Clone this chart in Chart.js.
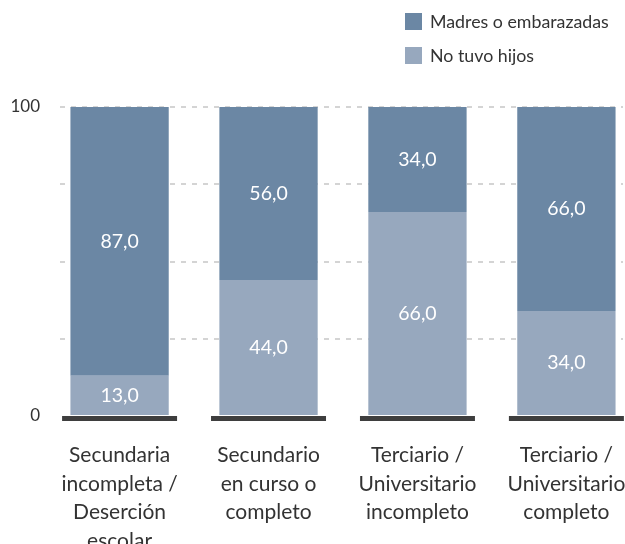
<!DOCTYPE html>
<html><head><meta charset="utf-8">
<script src="https://cdn.jsdelivr.net/npm/chart.js@4/dist/chart.umd.min.js"></script>
<style>
html,body{margin:0;padding:0;background:#fff;overflow:hidden}
#wrap{position:relative;width:625px;height:544px}
canvas{position:absolute;left:0;top:0}
.leg{position:absolute;left:405px;font-family:Lato,"Noto Sans",sans-serif;font-size:17.8px;color:#333;display:flex;align-items:center;line-height:19px}
.leg span.b{display:inline-block;width:17px;height:17px;margin-right:8px}
</style></head>
<body><div id="wrap">
<canvas id="c" width="625" height="544"></canvas>
<div class="leg" style="top:12px"><span class="b" style="background:#6b87a4"></span>Madres o embarazadas</div>
<div class="leg" style="top:46px"><span class="b" style="background:#97a8be"></span>No tuvo hijos</div>
</div>
<script>
const categories = [
  ["Secundaria","incompleta /","Deserción","escolar"],
  ["Secundario","en curso o","completo"],
  ["Terciario /","Universitario","incompleto"],
  ["Terciario /","Universitario","completo"]
];
const noTuvoHijos = [13.0, 44.0, 66.0, 34.0];
const madres = [87.0, 56.0, 34.0, 66.0];
const seriesNames = ["No tuvo hijos", "Madres o embarazadas"];
const yTickLabels = {0: "0", 100: "100"};

const FONT = 'Lato, "Noto Sans", sans-serif';
const toPts = arr => arr.map((v, i) => ({x: i, y: v}));

const baselinePlugin = {
  id: 'baseline',
  afterDatasetsDraw(chart) {
    const {ctx, scales: {x, y}} = chart;
    const step = x.getPixelForValue(1) - x.getPixelForValue(0);
    const half = step * 0.386;
    const y0 = y.getPixelForValue(0);
    ctx.save();
    ctx.fillStyle = '#3e3e3e';
    categories.forEach((c, i) => {
      const cx = x.getPixelForValue(i);
      ctx.fillRect(cx - half, y0, half * 2, 5);
    });
    ctx.restore();
  }
};
const labelPlugin = {
  id: 'vlabels',
  afterDatasetsDraw(chart) {
    const ctx = chart.ctx;
    ctx.save();
    ctx.fillStyle = '#ffffff';
    ctx.font = '19.5px ' + FONT;
    ctx.textAlign = 'center';
    ctx.textBaseline = 'middle';
    chart.data.datasets.forEach((ds, di) => {
      chart.getDatasetMeta(di).data.forEach((el, i) => {
        const v = ds.data[i].y;
        const cy = (el.y + el.base) / 2;
        ctx.fillText(v.toFixed(1).replace('.', ','), el.x, cy);
      });
    });
    ctx.restore();
  }
};

new Chart(document.getElementById('c'), {
  type: 'bar',
  data: {
    datasets: [
      {label: seriesNames[0], data: toPts(noTuvoHijos), backgroundColor: '#97a8be', borderWidth: 0},
      {label: seriesNames[1], data: toPts(madres), backgroundColor: '#6b87a4', borderWidth: 0}
    ]
  },
  options: {
    responsive: false,
    animation: false,
    devicePixelRatio: 1,
    layout: {padding: {top: 107, right: 2, left: 0, bottom: 0}},
    plugins: {legend: {display: false}, tooltip: {enabled: false}},
    datasets: {bar: {barPercentage: 0.66, categoryPercentage: 1.0}},
    scales: {
      x: {
        type: 'linear', stacked: true, min: -0.40, max: 3.38, offset: false,
        grid: {display: false}, border: {display: false},
        afterBuildTicks: s => { s.ticks = categories.map((c, i) => ({value: i})); },
        afterFit: s => { s.height = 128; s.paddingLeft = 0; s.paddingRight = 0; },
        ticks: {
          autoSkip: false, maxRotation: 0, padding: 17, color: '#333',
          font: {family: FONT, size: 21, lineHeight: 1.36},
          callback: (v) => categories[v] || ''
        }
      },
      y: {
        stacked: true, min: 0, max: 100,
        afterFit: s => { s.width = 60; s.paddingTop = 0; s.paddingBottom = 0; },
        grid: {
          drawTicks: false,
          color: c => c.tick.value === 0 ? 'rgba(0,0,0,0)' : '#d4d4d4',
          lineWidth: 2
        },
        border: {display: false, dash: [5, 6]},
        ticks: {
          stepSize: 25, padding: 20, color: '#333',
          font: {family: FONT, size: 17},
          callback: v => (v in yTickLabels) ? yTickLabels[v] : ''
        }
      }
    }
  },
  plugins: [baselinePlugin, labelPlugin]
});
</script>
</body></html>
